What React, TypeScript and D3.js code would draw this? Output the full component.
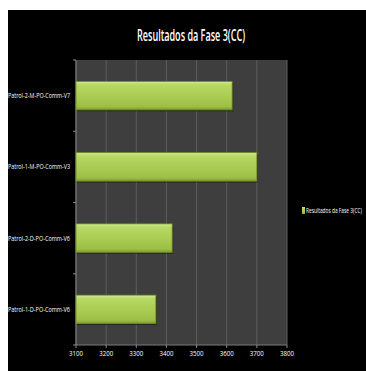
import React, { useLayoutEffect, useRef, useState } from "react";
import * as d3 from "d3";

const categories = [
  "Patrol-2-M-PO-Comm-V7",
  "Patrol-1-M-PO-Comm-V3",
  "Patrol-2-D-PO-Comm-V6",
  "Patrol-1-D-PO-Comm-V6",
];
const values = [3618, 3700, 3419, 3365];
const xTicks = [3100, 3200, 3300, 3400, 3500, 3600, 3700, 3800];
const title = "Resultados da Fase 3(CC)";
const seriesName = "Resultados da Fase 3(CC)";

const W = 366;
const H = 371;
const plot = { left: 76, right: 287, top: 60, bottom: 345 };

export default function App() {
  const x = d3.scaleLinear().domain([3100, 3800]).range([plot.left, plot.right]);
  const y = d3
    .scaleBand<string>()
    .domain(categories)
    .range([plot.top, plot.bottom])
    .paddingInner(0.6)
    .paddingOuter(0.3);
  const band = (plot.bottom - plot.top) / categories.length;
  const font = "'Open Sans', 'DejaVu Sans Condensed', sans-serif";

  const legRef = useRef<SVGTextElement>(null);
  const [legScale, setLegScale] = useState(0.7);
  useLayoutEffect(() => {
    if (legRef.current) {
      const len = legRef.current.getComputedTextLength();
      if (len > 0) setLegScale(56 / len);
    }
  }, []);

  return (
    <svg
      width={W}
      height={H}
      style={{ position: "absolute", left: 0, top: 0, display: "block" }}
    >
      <defs>
        <linearGradient id="barG" x1="0" y1="0" x2="0" y2="1">
          <stop offset="0" stopColor="#d2ea90" />
          <stop offset="0.12" stopColor="#b8d866" />
          <stop offset="0.55" stopColor="#a8cb50" />
          <stop offset="0.88" stopColor="#9dbf45" />
          <stop offset="1" stopColor="#7f9c33" />
        </linearGradient>
      </defs>
      <rect x={0} y={0} width={W} height={H} fill="#ffffff" />
      <rect x={8} y={10} width={W - 8} height={H - 10} fill="#000000" />
      <text
        x={191}
        y={41}
        fill="#ffffff"
        fontFamily={font}
        fontSize={16}
        fontWeight={600}
        textAnchor="middle"
        textLength={108}
        lengthAdjust="spacingAndGlyphs"
      >
        {title}
      </text>
      <rect
        x={plot.left}
        y={plot.top}
        width={plot.right - plot.left}
        height={plot.bottom - plot.top}
        fill="#3e3e3e"
      />
      {xTicks.map((t) => (
        <line
          key={"g" + t}
          x1={x(t)}
          x2={x(t)}
          y1={plot.top}
          y2={plot.bottom}
          stroke="#5e5e5e"
          strokeWidth={1}
        />
      ))}
      <line x1={plot.left} x2={plot.left} y1={plot.top} y2={plot.bottom} stroke="#7a7a7a" />
      <line x1={plot.left} x2={plot.right} y1={plot.bottom} y2={plot.bottom} stroke="#7a7a7a" />
      {d3.range(categories.length + 1).map((i) => (
        <line
          key={"yt" + i}
          x1={plot.left - 3}
          x2={plot.left}
          y1={plot.top + i * band}
          y2={plot.top + i * band}
          stroke="#8a8a8a"
        />
      ))}
      {xTicks.map((t) => (
        <line
          key={"xt" + t}
          x1={x(t)}
          x2={x(t)}
          y1={plot.bottom}
          y2={plot.bottom + 3}
          stroke="#8a8a8a"
        />
      ))}
      {categories.map((c, i) => {
        const y0 = y(c)!;
        const h = y.bandwidth();
        const w = x(values[i]) - plot.left;
        return (
          <g key={c}>
            <rect x={plot.left + 1} y={y0 + 1.5} width={w} height={h} fill="#1e2610" opacity={0.7} />
            <rect
              x={plot.left}
              y={y0}
              width={w}
              height={h}
              fill="url(#barG)"
              stroke="#6f8a24"
              strokeWidth={0.8}
            />
            <text
              x={70}
              y={y0 + h / 2}
              dy="0.35em"
              fill="#ffffff"
              fontFamily={font}
              fontSize={7}
              textAnchor="end"
              textLength={62}
              lengthAdjust="spacingAndGlyphs"
            >
              {c}
            </text>
          </g>
        );
      })}
      {xTicks.map((t) => (
        <text
          key={"xl" + t}
          x={x(t)}
          y={354}
          fill="#ffffff"
          fontFamily={font}
          fontSize={7}
          textAnchor="middle"
          dy="0.35em"
          textLength={14}
          lengthAdjust="spacingAndGlyphs"
        >
          {t}
        </text>
      ))}
      <rect x={302} y={207} width={3} height={7} fill="url(#barG)" />
      <text
        ref={legRef}
        transform={`translate(306,211) scale(${legScale},1)`}
        dy="0.35em"
        fill="#ffffff"
        fontFamily={font}
        fontSize={6.5}
      >
        {seriesName}
      </text>
    </svg>
  );
}
